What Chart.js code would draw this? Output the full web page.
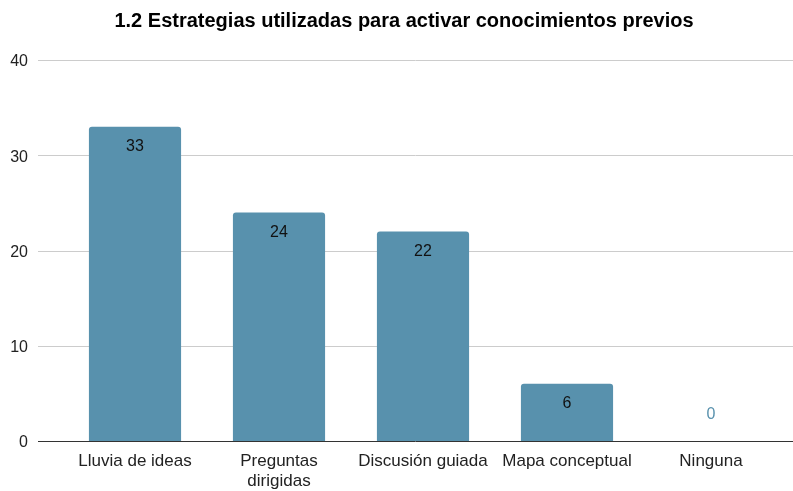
<!DOCTYPE html>
<html>
<head>
<meta charset="utf-8">
<script src="https://cdn.jsdelivr.net/npm/chart.js@4"></script>
<style>
  html, body { margin: 0; padding: 0; background: #fff; }
  #wrap { width: 793px; height: 491px; }
</style>
</head>
<body>
<div id="wrap"><canvas id="chart" width="793" height="491"></canvas></div>
<script>
const categories = ["Lluvia de ideas", ["Preguntas", "dirigidas"], "Discusión guiada", "Mapa conceptual", "Ninguna"];
const values = [33, 24, 22, 6, 0];
const yTicks = [0, 10, 20, 30, 40];
const chartTitle = "1.2 Estrategias utilizadas para activar conocimientos previos";

const barColor = "#5891ad";
const font = "'Liberation Sans', Arial, sans-serif";

// title drawn by hand so it sits where the original has it
const titlePlugin = {
  id: "topTitle",
  afterDraw(chart) {
    const ctx = chart.ctx;
    ctx.save();
    ctx.font = "bold 20px " + font;
    ctx.fillStyle = "#000";
    ctx.textAlign = "center";
    ctx.textBaseline = "middle";
    ctx.fillText(chartTitle, 404, 21);
    ctx.restore();
  }
};

// gridlines run past the plot area, like the original
const gridPlugin = {
  id: "grid",
  beforeDatasetsDraw(chart) {
    const ctx = chart.ctx;
    const y = chart.scales.y;
    ctx.save();
    yTicks.forEach(t => {
      const py = Math.round(y.getPixelForValue(t)) + 0.5;
      ctx.strokeStyle = t === 0 ? "#333333" : "#cccccc";
      ctx.lineWidth = 1;
      ctx.beginPath();
      ctx.moveTo(38, py);
      ctx.lineTo(793, py);
      ctx.stroke();
    });
    ctx.restore();
  }
};

// value labels inside the top of each bar
const labelPlugin = {
  id: "labels",
  afterDatasetsDraw(chart) {
    const ctx = chart.ctx;
    const meta = chart.getDatasetMeta(0);
    ctx.save();
    ctx.font = "16px " + font;
    ctx.textAlign = "center";
    ctx.textBaseline = "middle";
    meta.data.forEach((bar, i) => {
      const v = values[i];
      if (v === 0) {
        ctx.fillStyle = barColor;
        ctx.fillText(v, bar.x, bar.y - 26);
      } else {
        ctx.fillStyle = "#111111";
        ctx.fillText(v, bar.x, bar.y + 20);
      }
    });
    ctx.restore();
  }
};

new Chart(document.getElementById("chart"), {
  type: "bar",
  data: {
    labels: categories,
    datasets: [{
      data: values,
      backgroundColor: barColor,
      borderRadius: { topLeft: 3, topRight: 3 },
      borderSkipped: "start",
      categoryPercentage: 1,
      barPercentage: 0.64
    }]
  },
  options: {
    responsive: false,
    animation: false,
    layout: { padding: { left: 0, right: 10, top: 60, bottom: 0 } },
    plugins: {
      legend: { display: false },
      tooltip: { enabled: false },
      title: { display: false }
    },
    scales: {
      x: {
        grid: { display: false, drawTicks: false },
        border: { display: false },
        ticks: {
          color: "#222",
          font: { family: font, size: 17, lineHeight: 1.18 },
          padding: 10,
          maxRotation: 0,
          autoSkip: false
        },
        afterFit(scale) { scale.height = 50; }
      },
      y: {
        min: 0,
        max: 40,
        grid: { display: false, drawTicks: false },
        border: { display: false },
        ticks: {
          stepSize: 10,
          color: "#222",
          font: { family: font, size: 16 },
          padding: 35,
          labelOffset: 2
        },
        afterFit(scale) { scale.width = 63; }
      }
    }
  },
  plugins: [gridPlugin, labelPlugin, titlePlugin]
});
</script>
</body>
</html>
